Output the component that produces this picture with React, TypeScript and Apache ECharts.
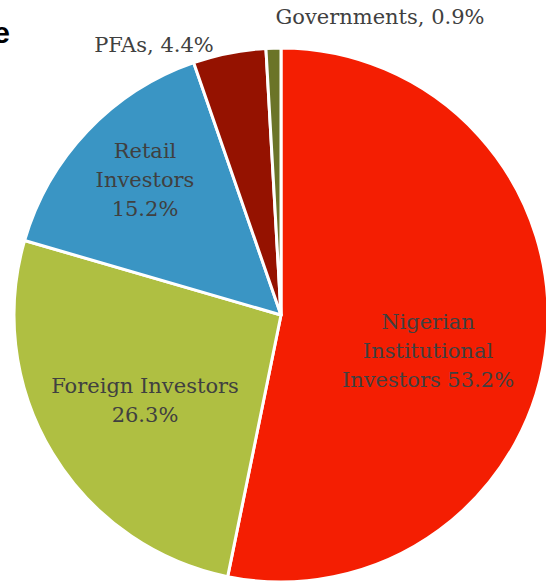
import React, { useEffect, useRef } from "react";
import * as echarts from "echarts";

const categories = [
  "Nigerian Institutional Investors",
  "Foreign Investors",
  "Retail Investors",
  "PFAs",
  "Governments",
];
const shares = [53.2, 26.3, 15.2, 4.4, 0.9];
const labelTemplates = [
  "Nigerian\nInstitutional\nInvestors {v}%",
  "Foreign Investors\n{v}%",
  "Retail\nInvestors\n{v}%",
  "PFAs, {v}%",
  "Governments, {v}%",
];
const colors = ["#F41E02", "#AFBF42", "#3A95C4", "#951200", "#6B7428"];
const labelPos = [
  [428, 351],
  [145, 400],
  [145, 180],
  [154, 45],
  [380, 17],
];

export default function App() {
  const ref = useRef<HTMLDivElement>(null);
  useEffect(() => {
    if (!ref.current) return;
    const chart = echarts.init(ref.current, undefined, { renderer: "svg" });
    chart.setOption({
      animation: false,
      backgroundColor: "#ffffff",
      graphic: [
        {
          type: "text",
          x: 10,
          y: 32,
          style: {
            text: "e",
            font: "bold 30px 'Liberation Sans', Arial, sans-serif",
            fill: "#000000",
            align: "right",
            verticalAlign: "middle",
          },
        },
      ],
      series: [
        {
          type: "pie",
          center: [281, 315],
          radius: 267,
          startAngle: 90,
          clockwise: true,
          avoidLabelOverlap: false,
          itemStyle: { borderColor: "#ffffff", borderWidth: 3 },
          label: {
            show: true,
            position: "inside",
            color: "#404040",
            fontFamily: "'DejaVu Serif', serif",
            fontSize: 21,
            lineHeight: 29,
            align: "center",
            formatter: (p: any) =>
              labelTemplates[p.dataIndex].replace("{v}", String(shares[p.dataIndex])),
          },
          labelLine: { show: false },
          labelLayout: (p: any) => ({
            x: labelPos[p.dataIndex][0],
            y: labelPos[p.dataIndex][1],
            align: "center",
            verticalAlign: "middle",
          }),
          emphasis: { disabled: true },
          data: categories.map((c, i) => ({
            name: c,
            value: shares[i],
            itemStyle: { color: colors[i] },
          })),
        },
      ],
    });
    return () => chart.dispose();
  }, []);
  return (
    <div
      ref={ref}
      style={{ position: "fixed", left: 0, top: 0, width: 546, height: 585 }}
    />
  );
}
